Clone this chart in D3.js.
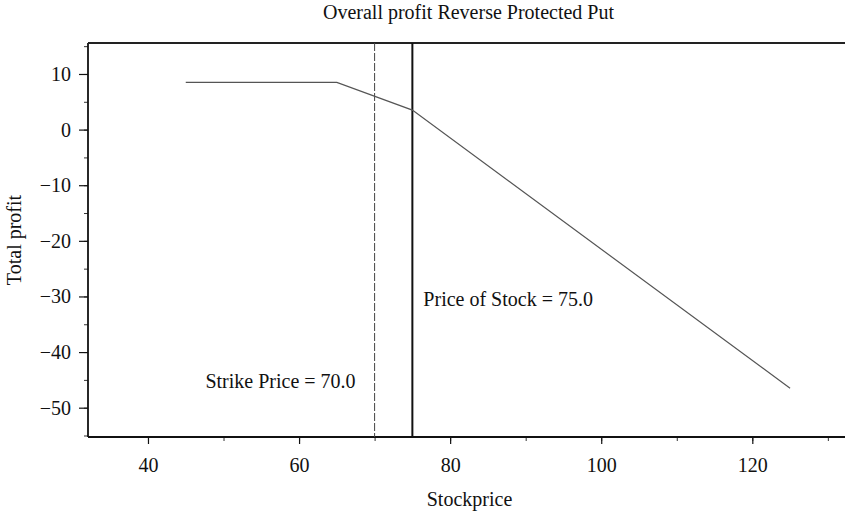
<!DOCTYPE html>
<html>
<head>
<meta charset="utf-8">
<script src="https://cdn.jsdelivr.net/npm/d3@7"></script>
<style>
  body { margin: 0; background: #fff; }
  svg text { font-family: "Liberation Serif", "Times New Roman", serif; fill: #111; }
</style>
</head>
<body>
<div id="chartHolder"></div>
<script>
// profit curve
const stockPrice = [45, 65, 75, 125];
const totalProfit = [8.5, 8.5, 3.5, -46.5];

const strikePrice = 70.0;
const currentPrice = 75.0;

const xTicks = [40, 60, 80, 100, 120];
const yTicks = [10, 0, -10, -20, -30, -40, -50];

const w = 845, h = 514;
// plot edges (window.top is reserved, hence the prefix)
const plotL = 88, plotR = 845, plotT = 43, plotB = 437;

const svg = d3.select("#chartHolder").append("svg")
  .attr("width", w)
  .attr("height", h);

const x = d3.scaleLinear().domain([32.06, 132.27]).range([plotL, plotR]);
const y = d3.scaleLinear().domain([15.57, -55.27]).range([plotT, plotB]);

// minor ticks (every 10 on x, every 5 on y)
const xMinor = d3.range(30, 140, 10).filter(v => v > x.domain()[0] && v < x.domain()[1]);
const yMinor = d3.range(-55, 20, 5).filter(v => v > y.domain()[1] && v < y.domain()[0]);

svg.append("g")
  .attr("transform", `translate(0,${plotB})`)
  .call(d3.axisBottom(x).tickValues(xMinor).tickSize(4).tickFormat(""))
  .call(g => g.select(".domain").remove())
  .selectAll("line").attr("stroke", "#333");

svg.append("g")
  .attr("transform", `translate(${plotL},0)`)
  .call(d3.axisLeft(y).tickValues(yMinor).tickSize(4).tickFormat(""))
  .call(g => g.select(".domain").remove())
  .selectAll("line").attr("stroke", "#333");

// major ticks + labels
const xAxis = svg.append("g")
  .attr("transform", `translate(0,${plotB})`)
  .call(d3.axisBottom(x).tickValues(xTicks).tickSize(7).tickPadding(14).tickFormat(d3.format("d")));
xAxis.select(".domain").remove();
xAxis.selectAll("line").attr("stroke", "#111").attr("stroke-width", 1.2);
xAxis.selectAll("text").attr("font-size", 20).attr("font-family", "Liberation Serif, serif").attr("fill", "#111");

const yAxis = svg.append("g")
  .attr("transform", `translate(${plotL},0)`)
  .call(d3.axisLeft(y).tickValues(yTicks).tickSize(9).tickPadding(8)
    .tickFormat(d => d < 0 ? "\u2212" + Math.abs(d) : d));
yAxis.select(".domain").remove();
yAxis.selectAll("line").attr("stroke", "#111").attr("stroke-width", 1.2);
yAxis.selectAll("text").attr("font-size", 20).attr("font-family", "Liberation Serif, serif").attr("fill", "#111");

// frame: left, bottom, top
svg.append("line").attr("x1", plotL).attr("x2", plotL).attr("y1", plotT).attr("y2", plotB)
  .attr("stroke", "#111").attr("stroke-width", 1.8);
svg.append("line").attr("x1", plotL).attr("x2", plotR).attr("y1", plotB).attr("y2", plotB)
  .attr("stroke", "#111").attr("stroke-width", 1.8);
svg.append("line").attr("x1", plotL).attr("x2", plotR).attr("y1", plotT).attr("y2", plotT)
  .attr("stroke", "#222").attr("stroke-width", 1.8);

// strike (dashed) and current price (solid) markers
svg.append("line")
  .attr("x1", x(strikePrice)).attr("x2", x(strikePrice))
  .attr("y1", plotT).attr("y2", plotB)
  .attr("stroke", "#444").attr("stroke-width", 1)
  .attr("stroke-dasharray", "8,2");
svg.append("line")
  .attr("x1", x(currentPrice)).attr("x2", x(currentPrice))
  .attr("y1", plotT).attr("y2", plotB)
  .attr("stroke", "#111").attr("stroke-width", 2);

// profit line
const pts = stockPrice.map((s, i) => [s, totalProfit[i]]);
svg.append("path")
  .datum(pts)
  .attr("fill", "none")
  .attr("stroke", "#555")
  .attr("stroke-width", 1.2)
  .attr("d", d3.line().x(d => x(d[0])).y(d => y(d[1])));

// annotations
svg.append("text")
  .attr("x", x(currentPrice) + 11).attr("y", y(-30) + 10)
  .attr("font-size", 20)
  .text("Price of Stock = " + currentPrice.toFixed(1));
svg.append("text")
  .attr("x", x(strikePrice) - 19).attr("y", y(-44.6) + 10)
  .attr("text-anchor", "end")
  .attr("font-size", 20)
  .text("Strike Price = " + strikePrice.toFixed(1));

// titles
svg.append("text")
  .attr("x", (plotL + plotR) / 2 + 2).attr("y", 19)
  .attr("text-anchor", "middle").attr("font-size", 20)
  .text("Overall profit Reverse Protected Put");
svg.append("text")
  .attr("x", (plotL + plotR) / 2 + 3).attr("y", 506)
  .attr("text-anchor", "middle").attr("font-size", 20)
  .text("Stockprice");
svg.append("text")
  .attr("transform", `translate(21,${(plotT + plotB) / 2}) rotate(-90)`)
  .attr("text-anchor", "middle").attr("font-size", 20)
  .text("Total profit");
</script>
</body>
</html>
